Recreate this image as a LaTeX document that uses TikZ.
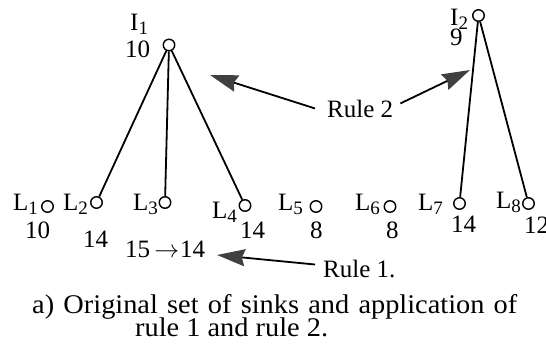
\documentclass[tikz,border=0pt]{standalone}
\usepackage{fontspec}
\setmainfont{Liberation Serif}
\usetikzlibrary{arrows.meta,calc}
\newcommand{\sbs}[1]{\raisebox{-4pt}{\fontsize{19}{19}\selectfont #1}}
\begin{document}
\begin{tikzpicture}[x=1pt,y=-1pt,
 sink/.style={circle,draw,line width=1.4pt,minimum size=11.5pt,inner sep=0pt,fill=white},
 edge/.style={line width=1.8pt},
 txt/.style={inner sep=0pt,font=\fontsize{25}{25}\selectfont,anchor=base west},
 captxt/.style={inner sep=0pt,font=\fontsize{27}{27}\selectfont,anchor=base west},
 ruleline/.style={line width=1.8pt,-{Stealth[length=28pt,width=17pt,inset=3pt,color=black!75]}},
]
\useasboundingbox (0,0) rectangle (546,349);
% sinks
\node[sink] (i1) at (169,45) {};
\node[sink] (i2) at (478.5,15.5) {};
\node[sink] (l1) at (47.5,206.5) {};
\node[sink] (l2) at (96.5,202.5) {};
\node[sink] (l3) at (165,202.5) {};
\node[sink] (l4) at (245,205.5) {};
\node[sink] (l5) at (316,206.5) {};
\node[sink] (l6) at (390,206.5) {};
\node[sink] (l7) at (459.5,203.5) {};
\node[sink] (l8) at (528.5,203.5) {};
% edges
\draw[edge] (i1) -- (l2);
\draw[edge] (i1) -- (l3);
\draw[edge] (i1) -- (l4);
\draw[edge] (i2) -- (l7);
\draw[edge] (i2) -- (l8);
% labels
\node[txt] (ti1) at (130,30) {I\sbs{1}};
\node[txt] (wi1) at (125,57) {10};
\node[txt] (ti2) at (450,25) {I\sbs{2}};
\node[txt] (wi2) at (450,45) {9};
\node[txt] (tl1) at (13,210) {L\sbs{1}};
\node[txt] (wl1) at (25,238) {10};
\node[txt] (tl2) at (63,210) {L\sbs{2}};
\node[txt] (wl2) at (83,247) {14};
\node[txt] (tl3) at (133,210) {L\sbs{3}};
\node[txt] (tl4) at (212,218) {L\sbs{4}};
\node[txt] (wl4) at (240,238) {14};
\node[txt] (tl5) at (278,210) {L\sbs{5}};
\node[txt] (wl5) at (310,238) {8};
\node[txt] (tl6) at (355,210) {L\sbs{6}};
\node[txt] (wl6) at (386,238) {8};
\node[txt] (tl7) at (418,210) {L\sbs{7}};
\node[txt] (wl7) at (451,232) {14};
\node[txt] (tl8) at (496,208) {L\sbs{8}};
\node[txt] (wl8) at (524,233) {12};
\node[txt] (chg) at (125,257) {15\,$\rightarrow$\kern1pt14};
\node[txt] (r1) at (323,277) {Rule 1.};
\node[txt] (r2) at (327,117) {Rule 2};
% rule arrows
\coordinate (r1tip) at (217,255);
\coordinate (r2tipL) at (210,75);
\coordinate (r2tipR) at (470,70);
\draw[ruleline] ([shift={(-8,-4)}]r1.west) -- (r1tip);
\draw[ruleline] ([shift={(-12,0)}]r2.west) -- (r2tipL);
\draw[ruleline] ([shift={(7,-5)}]r2.east) -- (r2tipR);
% caption
\node[captxt] (c1) at (32,313) {\scalebox{1.05}[1]{\makebox[462pt][s]{a) Original set of sinks and application of}}};
\node[captxt] (c2) at (135,336) {\scalebox{1.05}[1]{rule 1 and rule 2.}};
\end{tikzpicture}
\end{document}
